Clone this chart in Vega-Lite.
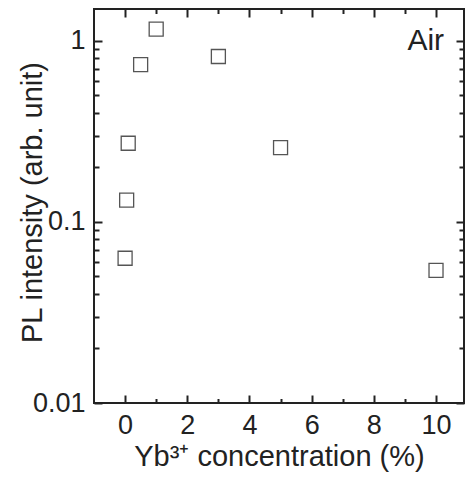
{
  "$schema": "https://vega.github.io/schema/vega-lite/v6.json",
  "width": 370,
  "height": 394,
  "autosize": "none",
  "padding": {"left": 94, "top": 9, "right": 2, "bottom": 74},
  "config": {
    "view": {"stroke": "#222", "strokeWidth": 2},
    "font": "Liberation Sans",
    "axis": {"grid": false, "domain": false, "labelColor": "#222", "titleColor": "#222", "labelFont": "Liberation Sans", "titleFont": "Liberation Sans", "titleFontSize": 29, "titleFontWeight": "normal", "labelOverlap": false, "labelFlush": false}
  },
  "layer": [
    {
      "data": {"values": [
        {"conc": 0, "pl": 0.063},
        {"conc": 0.05, "pl": 0.132},
        {"conc": 0.1, "pl": 0.272},
        {"conc": 0.5, "pl": 0.74},
        {"conc": 1, "pl": 1.16},
        {"conc": 3, "pl": 0.82},
        {"conc": 5, "pl": 0.257},
        {"conc": 10, "pl": 0.054}
      ]},
      "mark": {"type": "point", "shape": "square", "filled": false, "stroke": "#555", "strokeWidth": 1.3, "size": 196, "opacity": 1},
      "encoding": {
        "x": {"field": "conc", "type": "quantitative", "scale": {"domain": [-1, 10.9], "nice": false, "zero": false},
          "axis": {"orient": "bottom", "title": "Yb³⁺ concentration (%)", "values": [0,1,2,3,4,5,6,7,8,9,10],
            "tickSize": {"condition": {"test": "datum.value % 2 == 0", "value": -8}, "value": -4.5}, "ticks": true, "tickColor": "#222", "tickWidth": 2, "labelFontSize": 27,
            "labelExpr": "datum.value % 2 == 0 ? datum.label : ''", "labelPadding": 17, "titleBaseline": "alphabetic", "titleY": 62}},
        "y": {"field": "pl", "type": "quantitative", "scale": {"type": "log", "domain": [0.01, 1.5], "nice": false},
          "axis": {"orient": "left", "title": "PL intensity (arb. unit)", "format": "~g", "ticks": true, "labelFontSize": 27, "tickColor": "#222", "tickWidth": 2,
            "values": [0.01,0.02,0.03,0.04,0.05,0.06,0.07,0.08,0.09,0.1,0.2,0.3,0.4,0.5,0.6,0.7,0.8,0.9,1],
            "tickSize": {"condition": {"test": "abs(log(datum.value)/LN10 - round(log(datum.value)/LN10)) < 1e-6", "value": -8}, "value": -5},
            "labelExpr": "abs(log(datum.value)/LN10 - round(log(datum.value)/LN10)) < 1e-6 ? datum.label : ''",
            "labelPadding": 17, "titleBaseline": "alphabetic", "titleX": -53, "titleY": 193}}
      }
    },
    {
      "data": {"values": [{"conc": 10.26, "pl": 0.89, "label": "Air"}]},
      "mark": {"type": "text", "align": "right", "baseline": "alphabetic", "fontSize": 30, "font": "Liberation Sans", "color": "#222"},
      "encoding": {
        "x": {"field": "conc", "type": "quantitative", "scale": {"domain": [-1, 10.9], "nice": false, "zero": false},
          "axis": {"orient": "top", "title": null, "labels": false, "ticks": true, "values": [0,1,2,3,4,5,6,7,8,9,10],
            "tickSize": {"condition": {"test": "datum.value % 2 == 0", "value": -8}, "value": -4.5}, "tickColor": "#222", "tickWidth": 2}},
        "y": {"field": "pl", "type": "quantitative", "scale": {"type": "log", "domain": [0.01, 1.5], "nice": false},
          "axis": {"orient": "right", "title": null, "labels": false, "ticks": true, "tickColor": "#222", "tickWidth": 2,
            "values": [0.01,0.02,0.03,0.04,0.05,0.06,0.07,0.08,0.09,0.1,0.2,0.3,0.4,0.5,0.6,0.7,0.8,0.9,1],
            "tickSize": {"condition": {"test": "abs(log(datum.value)/LN10 - round(log(datum.value)/LN10)) < 1e-6", "value": -8}, "value": -5}}},
        "text": {"field": "label"}
      }
    }
  ],
  "resolve": {"axis": {"x": "independent", "y": "independent"}}
}
